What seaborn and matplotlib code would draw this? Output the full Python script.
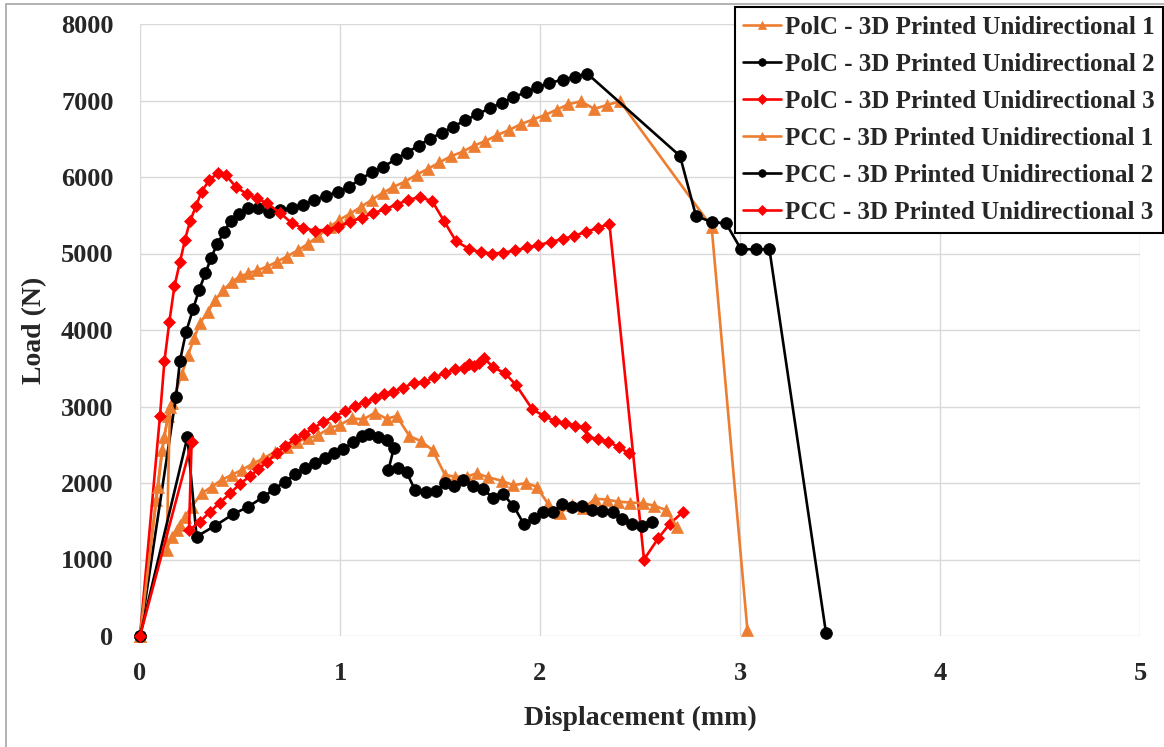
import matplotlib
matplotlib.use("Agg")
import matplotlib.pyplot as plt
from matplotlib.patches import Rectangle
import seaborn as sns

# Load-displacement data (displacement in mm, load in N)
polc1_x = [0, 0.08, 0.11, 0.14, 0.16, 0.21, 0.24, 0.27, 0.30, 0.34, 0.375, 0.417, 0.458, 0.50,
           0.54, 0.587, 0.637, 0.683, 0.733, 0.788, 0.842, 0.892, 0.95, 0.997, 1.05, 1.105,
           1.158, 1.213, 1.267, 1.325, 1.383, 1.442, 1.497, 1.553, 1.613, 1.67, 1.727, 1.787,
           1.843, 1.903, 1.963, 2.025, 2.083, 2.142, 2.203, 2.272, 2.333, 2.40, 2.858, 3.037]
polc1_y = [0, 1780, 2430, 2870, 3040, 3430, 3670, 3890, 4090, 4240, 4390, 4520, 4630, 4700,
           4740, 4780, 4830, 4890, 4960, 5040, 5130, 5230, 5350, 5440, 5520, 5610, 5700, 5790,
           5870, 5940, 6030, 6110, 6190, 6270, 6330, 6410, 6470, 6550, 6610, 6690, 6750, 6810,
           6880, 6950, 6990, 6890, 6940, 6990, 5350, 80]

polc2_x = [0, 0.18, 0.20, 0.23, 0.265, 0.295, 0.327, 0.355, 0.385, 0.42, 0.453, 0.497, 0.54,
           0.59, 0.643, 0.70, 0.758, 0.813, 0.87, 0.93, 0.99, 1.045, 1.10, 1.16, 1.217, 1.278,
           1.335, 1.393, 1.45, 1.51, 1.567, 1.627, 1.687, 1.75, 1.81, 1.867, 1.928, 1.987,
           2.047, 2.113, 2.175, 2.237, 2.70, 2.78, 2.86, 2.93, 3.005, 3.08, 3.147, 3.43]
polc2_y = [0, 3130, 3600, 3970, 4270, 4520, 4740, 4940, 5120, 5280, 5430, 5510, 5590, 5590,
           5540, 5570, 5590, 5630, 5700, 5750, 5810, 5870, 5970, 6060, 6135, 6230, 6320, 6410,
           6500, 6580, 6660, 6740, 6820, 6900, 6970, 7040, 7110, 7170, 7230, 7270, 7310, 7350,
           6275, 5490, 5410, 5395, 5055, 5055, 5055, 40]

polc3_x = [0, 0.10, 0.122, 0.147, 0.172, 0.20, 0.225, 0.25, 0.28, 0.308, 0.347, 0.388, 0.43,
           0.48, 0.533, 0.583, 0.633, 0.70, 0.758, 0.817, 0.875, 0.933, 0.988, 1.05, 1.108,
           1.167, 1.225, 1.283, 1.342, 1.40, 1.462, 1.52, 1.58, 1.647, 1.703, 1.762, 1.817,
           1.877, 1.937, 1.992, 2.053, 2.113, 2.172, 2.23, 2.288, 2.347, 2.52, 2.592, 2.65, 2.717]
polc3_y = [0, 2880, 3590, 4110, 4570, 4890, 5180, 5420, 5620, 5810, 5960, 6050, 6020, 5870,
           5780, 5720, 5660, 5530, 5400, 5330, 5300, 5310, 5350, 5410, 5470, 5525, 5580, 5640,
           5700, 5740, 5680, 5425, 5160, 5060, 5015, 5000, 5010, 5040, 5080, 5110, 5150, 5190,
           5230, 5285, 5330, 5390, 1000, 1280, 1470, 1625]

pcc1_x = [0, 0.09, 0.12, 0.15, 0.133, 0.158, 0.183, 0.20, 0.225, 0.258, 0.308, 0.358, 0.408,
          0.458, 0.508, 0.567, 0.617, 0.675, 0.733, 0.783, 0.842, 0.892, 0.95, 1.0, 1.058,
          1.117, 1.175, 1.233, 1.283, 1.347, 1.403, 1.463, 1.525, 1.575, 1.633, 1.683, 1.742,
          1.808, 1.867, 1.93, 1.983, 2.042, 2.10, 2.158, 2.217, 2.275, 2.333, 2.392, 2.45,
          2.513, 2.572, 2.63, 2.687]
pcc1_y = [0, 1950, 2600, 3000, 1130, 1300, 1390, 1450, 1560, 1690, 1865, 1950, 2040, 2105,
          2170, 2257, 2322, 2409, 2474, 2540, 2584, 2627, 2720, 2760, 2845, 2832, 2919, 2840,
          2876, 2614, 2549, 2431, 2105, 2083, 2083, 2126, 2074, 2030, 1970, 2000, 1952, 1720,
          1608, 1712, 1669, 1795, 1783, 1756, 1745, 1734, 1704, 1647, 1421]

pcc2_x = [0, 0.237, 0.283, 0.375, 0.467, 0.542, 0.613, 0.672, 0.725, 0.775, 0.825, 0.875,
          0.925, 0.97, 1.017, 1.063, 1.108, 1.147, 1.192, 1.233, 1.27, 1.242, 1.292, 1.333,
          1.375, 1.43, 1.48, 1.525, 1.57, 1.617, 1.667, 1.717, 1.767, 1.813, 1.867, 1.92, 1.97,
          2.017, 2.063, 2.112, 2.158, 2.212, 2.262, 2.312, 2.363, 2.408, 2.458, 2.508, 2.562]
pcc2_y = [0, 2600, 1300, 1440, 1595, 1690, 1813, 1921, 2017, 2113, 2192, 2257, 2322, 2395,
          2440, 2530, 2614, 2640, 2605, 2562, 2464, 2170, 2192, 2140, 1908, 1876, 1899, 1996,
          1961, 2039, 1965, 1917, 1800, 1856, 1704, 1460, 1538, 1625, 1625, 1725, 1682, 1699,
          1647, 1634, 1617, 1529, 1462, 1442, 1494]

pcc3_x = [0, 0.258, 0.245, 0.30, 0.35, 0.40, 0.45, 0.50, 0.55, 0.592, 0.637, 0.683, 0.725,
          0.775, 0.82, 0.867, 0.917, 0.975, 1.025, 1.075, 1.125, 1.175, 1.22, 1.267, 1.317,
          1.37, 1.422, 1.472, 1.525, 1.575, 1.62, 1.645, 1.67, 1.695, 1.72, 1.767, 1.825, 1.88,
          1.962, 2.02, 2.075, 2.125, 2.175, 2.225, 2.237, 2.288, 2.342, 2.395, 2.445]
pcc3_y = [0, 2532, 1380, 1494, 1625, 1743, 1865, 1987, 2092, 2179, 2279, 2388, 2484, 2571,
          2636, 2714, 2802, 2867, 2940, 3010, 3055, 3107, 3160, 3194, 3246, 3311, 3324, 3381,
          3434, 3486, 3499, 3560, 3529, 3570, 3630, 3512, 3434, 3281, 2963, 2876, 2810, 2780,
          2750, 2728, 2605, 2575, 2540, 2466, 2388]

labels = ["PolC - 3D Printed Unidirectional 1", "PolC - 3D Printed Unidirectional 2",
          "PolC - 3D Printed Unidirectional 3", "PCC - 3D Printed Unidirectional 1",
          "PCC - 3D Printed Unidirectional 2", "PCC - 3D Printed Unidirectional 3"]
x_ticks = [0, 1, 2, 3, 4, 5]
y_ticks = [0, 1000, 2000, 3000, 4000, 5000, 6000, 7000, 8000]

ORANGE = "#ED7D31"
RED = "#FF0000"
BLACK = "#000000"

sns.set_style("whitegrid")
plt.rcParams["font.family"] = ["Liberation Serif", "DejaVu Serif"]
plt.rcParams["font.weight"] = "bold"

fig = plt.figure(figsize=(11.64, 7.47), dpi=100)
ax = fig.add_axes([140 / 1164, 1 - 636 / 747, 1000 / 1164, 612 / 747])

series = [
    (polc1_x, polc1_y, ORANGE, "^", 8.5),
    (polc2_x, polc2_y, BLACK, "o", 8.5),
    (polc3_x, polc3_y, RED, "D", 6.5),
    (pcc1_x, pcc1_y, ORANGE, "^", 8.5),
    (pcc2_x, pcc2_y, BLACK, "o", 8.5),
    (pcc3_x, pcc3_y, RED, "D", 6.5),
]

for (xs, ys, col, mk, ms), lab in zip(series, labels):
    sns.lineplot(x=xs, y=ys, ax=ax, sort=False, estimator=None, color=col,
                 marker=mk, markersize=ms, markeredgecolor=col, markeredgewidth=0.5,
                 linewidth=1.9, label=lab, clip_on=False)

ax.set_xlim(0, 5)
ax.set_ylim(0, 8000)
ax.set_xticks(x_ticks)
ax.set_yticks(y_ticks)
ax.set_xticklabels([str(t) for t in x_ticks])
ax.set_yticklabels([str(t) for t in y_ticks])
ax.tick_params(axis="both", length=0, pad=19, labelsize=19)
for lbl in ax.get_xticklabels() + ax.get_yticklabels():
    lbl.set_fontweight("bold")
ax.grid(True, color="#d9d9d9", linewidth=1.0)
for side in ax.spines.values():
    side.set_visible(False)

ax.set_xlabel("Displacement (mm)", fontsize=20, fontweight="bold", labelpad=15)
ax.set_ylabel("Load (N)", fontsize=20, fontweight="bold", labelpad=10)

leg = ax.legend(loc="upper right", bbox_to_anchor=(1163 / 1164, 1 - 7 / 747),
                bbox_transform=fig.transFigure, frameon=True, fancybox=False,
                framealpha=1, edgecolor="black", prop={"weight": "bold", "size": 18},
                handlelength=1.5, handletextpad=0.15, labelspacing=0.56,
                borderpad=0.35, borderaxespad=0)
leg.get_frame().set_linewidth(1.5)
for h in leg.legend_handles:
    h.set_markersize(5.5)

fig.patches.append(Rectangle((6 / 1164, -0.1), 1.2, 1.1 - 4 / 747, transform=fig.transFigure,
                             fill=False, edgecolor="#a6a6a6", linewidth=1.2))

fig.savefig("out.png", dpi=100)
